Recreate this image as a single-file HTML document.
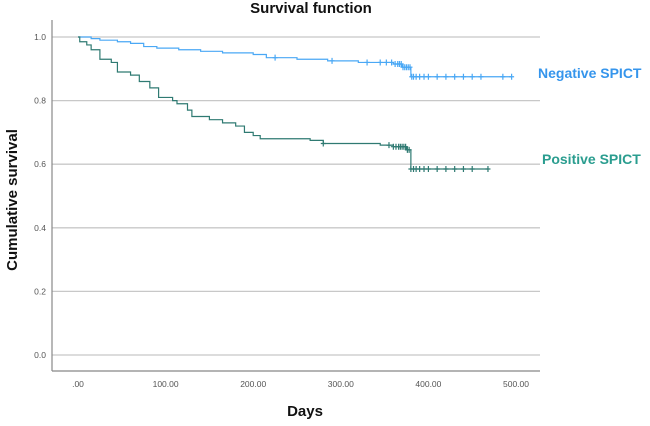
<!DOCTYPE html>
<html><head><meta charset="utf-8"><style>
body{margin:0;background:#fff;}
svg text{font-family:"Liberation Sans",sans-serif;}
</style></head><body>
<svg width="650" height="421" viewBox="0 0 650 421">
<text x="311" y="13" text-anchor="middle" font-size="15" font-weight="bold" fill="#111">Survival function</text>
<text transform="translate(17,200) rotate(-90)" text-anchor="middle" font-size="15" font-weight="bold" fill="#111">Cumulative survival</text>
<text x="305" y="416" text-anchor="middle" font-size="15" font-weight="bold" fill="#111">Days</text>
<g id="grid"></g>
<g id="axes"></g>
<g id="series"></g>
<text x="538" y="78" font-size="14" font-weight="bold" fill="#3595ec">Negative SPICT</text>
<text x="542" y="164" font-size="14" font-weight="bold" fill="#2a9d8f">Positive SPICT</text>
</svg>
<script>
const yTicks=[0,0.2,0.4,0.6,0.8,1.0];
const yTickLabels=["0.0","0.2","0.4","0.6","0.8","1.0"];
const xTicks=[0,100,200,300,400,500];
const xTickLabels=[".00","100.00","200.00","300.00","400.00","500.00"];
const negDays=[0,15,25,45,60,75,90,115,140,165,200,215,250,285,320,360,370,380,495];
const negSurv=[1.0,0.995,0.99,0.985,0.98,0.97,0.965,0.96,0.955,0.95,0.945,0.935,0.93,0.925,0.92,0.915,0.905,0.875,0.875];
const negCensor=[225,290,330,345,352,358,362,365,367,369,371,373,375,377,379,381,383,386,390,395,400,410,420,430,440,450,460,485,495];
const posDays=[0,2,10,15,25,38,45,60,70,82,92,108,113,125,130,150,165,180,190,200,208,265,280,345,360,375,380,468];
const posSurv=[1.0,0.985,0.975,0.96,0.93,0.92,0.89,0.88,0.86,0.84,0.81,0.80,0.79,0.77,0.75,0.74,0.73,0.72,0.70,0.69,0.68,0.675,0.665,0.66,0.655,0.645,0.585,0.585];
const posCensor=[280,355,360,363,366,368,370,372,374,376,378,380,383,386,390,395,400,410,420,430,440,450,468];
const NS="http://www.w3.org/2000/svg";
const X=d=>78+d*0.876, Y=s=>355-s*318;
function mk(t,a,p){const e=document.createElementNS(NS,t);for(const k in a)e.setAttribute(k,a[k]);p.appendChild(e);return e;}
const grid=document.getElementById('grid'),axes=document.getElementById('axes'),ser=document.getElementById('series');
yTicks.forEach((v,i)=>{
 const l=mk('line',{x1:52,x2:540,y1:Y(v),y2:Y(v),stroke:'#c8c8c8','stroke-width':1.3},grid);
 
 
 const t=mk('text',{x:46,y:Y(v)+3,'text-anchor':'end','font-size':8.5,fill:'#555'},axes);t.textContent=yTickLabels[i];
 
 
});
xTicks.forEach((v,i)=>{
 const t=mk('text',{x:X(v),y:387,'text-anchor':'middle','font-size':8.5,fill:'#555'},axes);t.textContent=xTickLabels[i];
 
 
});
const ya=mk('line',{x1:52,x2:52,y1:20,y2:371,stroke:'#888','stroke-width':1.2},axes);


const xa=mk('line',{x1:52,x2:540,y1:371,y2:371,stroke:'#888','stroke-width':1.2},axes);


function stepVal(days,surv,d){let s=surv[0];for(let i=0;i<days.length;i++){if(days[i]<=d)s=surv[i];}return s;}
function draw(days,surv,cens,col,name){
 let p='M'+X(days[0])+','+Y(surv[0]);
 for(let i=1;i<days.length;i++){p+=' H'+X(days[i])+' V'+Y(surv[i]);}
 const path=mk('path',{d:p,fill:'none',stroke:col,'stroke-width':1.2},ser);
 
 
 cens.forEach(c=>{
  const x=X(c),y=Y(stepVal(days,surv,c));
  const g=mk('path',{d:`M${x-2.5},${y}H${x+2.5}M${x},${y-3}V${y+3}`,stroke:col,'stroke-width':1.2},ser);
  
  
 });
}
draw(negDays,negSurv,negCensor,'#4aa8f5','negative-spict');
draw(posDays,posSurv,posCensor,'#2f7a72','positive-spict');
</script>
</body></html>
